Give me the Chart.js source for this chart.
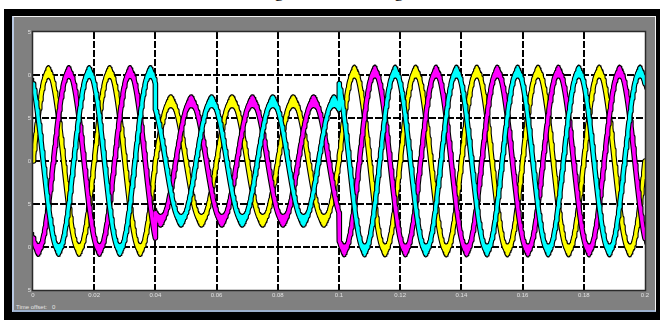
<!DOCTYPE html>
<html>
<head>
<meta charset="utf-8">
<script src="https://cdn.jsdelivr.net/npm/chart.js@4.4.1/dist/chart.umd.min.js"></script>
<style>
  html, body { margin: 0; padding: 0; background: #fff; width: 660px; height: 320px; overflow: hidden; position: relative; }
  #title { position: absolute; left: -6px; top: -18px; width: 660px; text-align: center; white-space: nowrap;
           font: 18px 'Liberation Serif', 'Times New Roman', serif; line-height: 18px; color: #000; }
  #frame { position: absolute; left: 4px; top: 9px; width: 656px; height: 311px; background: #000; }
  #panel { position: absolute; left: 12px; top: 16px; width: 644px; height: 296px; box-sizing: border-box; background: #808080;
           border-top: 1px solid #f2f2f2; border-left: 2px solid #b9c9e2; border-right: 1px solid #f2f2f2; border-bottom: 2px solid #9db0cc; }
  #offset { position: absolute; left: 16px; top: 304px; font: 6px 'Liberation Sans', Arial, sans-serif; color: #e4e4e4; white-space: pre; }
  canvas { position: absolute; left: 0; top: 0; }
</style>
</head>
<body>
<div id="title">Voltage of Load Voltage</div>
<div id="frame"></div>
<div id="panel"></div>
<div id="offset">Time offset:   0</div>
<canvas id="scope" width="660" height="320"></canvas>
<script>
// Three-phase voltage: 50 Hz, amplitude dips between 0.04 s and 0.1 s.
const frequencyHz = 50;
const segmentStarts = [0, 0.04, 0.1];
const segmentEnds = [0.04, 0.1, 0.2];
const segmentAmplitudes = [10.35, 6.95, 10.4];
const bandHalfWidths = [0.75, 0.75, 0.75];
const phaseNames = ['Va', 'Vb', 'Vc'];
const phaseAnglesDeg = [0, -120, 120];
const xTickValues = [0, 0.02, 0.04, 0.06, 0.08, 0.1, 0.12, 0.14, 0.16, 0.18, 0.2];
const yTickValues = [-15, -10, -5, 0, 5, 10, 15];
const sampleStep = 0.0002;

const phaseColors = ['#ffff00', '#ff00ff', '#00ffff'];
const drawOrder = [2, 1, 0]; // later phases are painted over earlier ones

// sign: +1 outer envelope, -1 inner envelope, 0 centre trace
function phaseTrace(phaseIdx, sign) {
  const pts = [];
  const phi = phaseAnglesDeg[phaseIdx] * Math.PI / 180;
  for (let s = 0; s < segmentStarts.length; s++) {
    const amp = segmentAmplitudes[s] + sign * bandHalfWidths[s];
    const n = Math.round((segmentEnds[s] - segmentStarts[s]) / sampleStep);
    for (let k = 0; k <= n; k++) {
      const t = segmentStarts[s] + k * sampleStep;
      pts.push({ x: t, y: amp * Math.sin(2 * Math.PI * frequencyHz * t + phi) });
    }
  }
  return pts;
}

// Within one phase the higher index is painted first:
// black centre stroke -> coloured envelope band -> outer edge -> coloured centre stroke
const datasets = [];
phaseNames.forEach((name, p) => {
  const centre = phaseTrace(p, 0);
  datasets.push({
    label: name, data: centre, borderColor: phaseColors[p], borderWidth: 3.4,
    pointRadius: 0, fill: false, order: drawOrder[p]
  });
  datasets.push({
    label: name + ' outer', data: phaseTrace(p, 1),
    borderColor: '#000', borderWidth: 1.2, pointRadius: 0, fill: false, order: drawOrder[p]
  });
  datasets.push({
    label: name + ' inner', data: phaseTrace(p, -1),
    borderColor: '#000', borderWidth: 1.2, pointRadius: 0, fill: '-1',
    backgroundColor: phaseColors[p], order: drawOrder[p]
  });
  datasets.push({
    label: name + ' edge', data: centre, borderColor: '#000', borderWidth: 5.6,
    pointRadius: 0, fill: false, order: drawOrder[p]
  });
});

const fmt = v => String(Math.round(v * 100) / 100);
const tickFont = { size: 6, family: "'Liberation Sans', Arial, sans-serif" };

const plotBox = {
  id: 'plotBox',
  beforeDraw(chart) {
    const { ctx, chartArea: a } = chart;
    ctx.save();
    ctx.fillStyle = '#fff';
    ctx.fillRect(a.left, a.top, a.right - a.left, a.bottom - a.top);
    ctx.restore();
  },
  afterDraw(chart) {
    const { ctx, chartArea: a } = chart;
    ctx.save();
    ctx.strokeStyle = '#2a2a2a';
    ctx.lineWidth = 1.5;
    ctx.strokeRect(a.left - 0.5, a.top - 0.5, a.right - a.left + 1, a.bottom - a.top + 1);
    ctx.restore();
  }
};

new Chart(document.getElementById('scope'), {
  type: 'line',
  data: { datasets },
  plugins: [plotBox],
  options: {
    responsive: false,
    animation: false,
    events: [],
    layout: { padding: { left: 28, right: 15, top: 32, bottom: 15 } },
    plugins: { legend: { display: false }, tooltip: { enabled: false } },
    elements: { line: { tension: 0, borderJoinStyle: 'round', borderCapStyle: 'round' } },
    scales: {
      x: {
        type: 'linear', min: 0, max: 0.2,
        afterBuildTicks: s => { s.ticks = xTickValues.map(v => ({ value: v })); },
        afterFit: s => { s.height = 15; },
        ticks: { font: tickFont, color: '#e0e0e0', padding: 2, maxRotation: 0, autoSkip: false, callback: v => fmt(v) },
        grid: {
          color: c => (c.tick && (c.tick.value === 0 || c.tick.value === 0.2)) ? 'rgba(0,0,0,0)' : '#000',
          lineWidth: 2, drawTicks: false
        },
        border: { display: false, dash: [7, 2] }
      },
      y: {
        type: 'linear', min: -15, max: 15,
        afterBuildTicks: s => { s.ticks = yTickValues.map(v => ({ value: v })); },
        afterFit: s => { s.width = 5; },
        ticks: { font: tickFont, color: '#e0e0e0', padding: 2, autoSkip: false, callback: v => fmt(v) },
        grid: {
          color: c => (c.tick && Math.abs(c.tick.value) === 15) ? 'rgba(0,0,0,0)' : '#000',
          lineWidth: 2, drawTicks: false
        },
        border: { display: false, dash: [7, 2] }
      }
    }
  }
});
</script>
</body>
</html>
